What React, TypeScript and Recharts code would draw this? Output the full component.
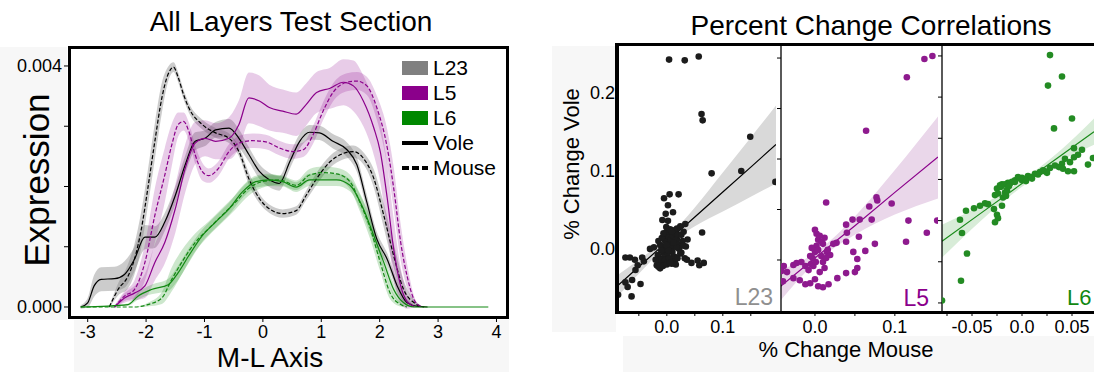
import React from 'react';
import { ComposedChart, Area, Line, Scatter, XAxis, YAxis, Legend } from 'recharts';

const FONT = '"Liberation Sans", Arial, Helvetica, sans-serif';

// [M-L position, expression, half width of the ribbon]
type Pt = [number, number, number];

const L23_VOLE: Pt[] = [
  [-3.12, 0, 0.00003], [-3.0, 0.00007, 0.00008], [-2.89, 0.00035, 0.00018], [-2.77, 0.00046, 0.0002],
  [-2.54, 0.00047, 0.0002], [-2.37, 0.00054, 0.00022], [-2.2, 0.00079, 0.0002], [-2.02, 0.00116, 0.0002],
  [-1.85, 0.00116, 0.00018], [-1.68, 0.00141, 0.00015], [-1.5, 0.00185, 0.00015], [-1.33, 0.00236, 0.00015],
  [-1.16, 0.00275, 0.00015], [-0.99, 0.0028, 0.00013], [-0.81, 0.00294, 0.00013], [-0.58, 0.00297, 0.00015],
  [-0.41, 0.0028, 0.00015], [-0.24, 0.00253, 0.00012], [-0.06, 0.00225, 0.00012], [0.11, 0.00211, 0.00012],
  [0.28, 0.00205, 0.00012], [0.46, 0.00241, 0.00012], [0.63, 0.00275, 0.00012], [0.8, 0.0029, 0.00012],
  [0.97, 0.00289, 0.00012], [1.2, 0.00275, 0.00012], [1.44, 0.00261, 0.00012], [1.61, 0.00236, 0.00012],
  [1.78, 0.00174, 0.00012], [1.95, 0.00113, 0.00012], [2.13, 0.00079, 0.0001], [2.3, 0.00035, 0.00008],
  [2.47, 0.00007, 0.00005], [2.65, 0.00001, 0.00002], [2.82, 0, 0],
];

const L23_MOUSE: Pt[] = [
  [-2.63, 0, 0.00002], [-2.48, 0.00029, 0.0001], [-2.31, 0.00051, 0.0002], [-2.2, 0.00079, 0.00025],
  [-2.08, 0.0013, 0.0003], [-1.97, 0.00197, 0.0003], [-1.85, 0.00275, 0.0003], [-1.73, 0.00347, 0.00025],
  [-1.62, 0.00387, 0.00012], [-1.53, 0.00398, 0.00008], [-1.45, 0.00381, 0.00008], [-1.36, 0.00353, 0.00008],
  [-1.27, 0.00331, 0.00008], [-1.04, 0.00303, 0.00008], [-0.81, 0.00289, 0.00008], [-0.58, 0.0028, 0.00008],
  [-0.41, 0.00258, 0.00008], [-0.24, 0.00213, 0.0001], [-0.06, 0.0018, 0.00008], [0.11, 0.00163, 0.00007],
  [0.34, 0.00155, 0.00007], [0.57, 0.0016, 0.00007], [0.74, 0.00185, 0.00008], [0.92, 0.00213, 0.0001],
  [1.15, 0.00241, 0.0001], [1.38, 0.00255, 0.0001], [1.55, 0.00258, 0.0001], [1.72, 0.00247, 0.0001],
  [1.9, 0.00213, 0.00015], [2.07, 0.00152, 0.0002], [2.24, 0.00085, 0.0002], [2.41, 0.00029, 0.00015],
  [2.59, 0.00007, 0.00005], [2.76, 0, 0],
];

const L5_VOLE: Pt[] = [
  [-2.54, 0, 0.00002], [-2.37, 0.00015, 0.00008], [-2.2, 0.00023, 0.00012], [-2.02, 0.00035, 0.0002],
  [-1.85, 0.00074, 0.0003], [-1.68, 0.00107, 0.00035], [-1.5, 0.00163, 0.0004], [-1.33, 0.0023, 0.0004],
  [-1.16, 0.00272, 0.00035], [-0.99, 0.0028, 0.0003], [-0.81, 0.00275, 0.0003], [-0.58, 0.0028, 0.00035],
  [-0.41, 0.00303, 0.0004], [-0.24, 0.00347, 0.00042], [-0.06, 0.00342, 0.00042], [0.11, 0.00331, 0.00038],
  [0.34, 0.00325, 0.00036], [0.57, 0.0032, 0.00036], [0.74, 0.00336, 0.00035], [0.92, 0.00356, 0.00034],
  [1.15, 0.00363, 0.00034], [1.38, 0.00373, 0.00038], [1.55, 0.00367, 0.00042], [1.72, 0.00342, 0.00042],
  [1.9, 0.00297, 0.00045], [2.01, 0.00258, 0.0005], [2.13, 0.0018, 0.00055], [2.24, 0.00096, 0.0005],
  [2.36, 0.00035, 0.0003], [2.47, 0.00009, 0.00012], [2.59, 0.00001, 0.00002],
];

const L5_MOUSE: Pt[] = [
  [-2.54, 0, 0.00002], [-2.37, 0.00018, 0.00008], [-2.2, 0.00029, 0.00015], [-2.02, 0.00074, 0.0003],
  [-1.85, 0.00152, 0.00045], [-1.68, 0.00219, 0.00045], [-1.56, 0.00269, 0.00035], [-1.45, 0.00303, 0.0002],
  [-1.36, 0.00308, 0.00015], [-1.27, 0.00292, 0.00015], [-1.16, 0.00253, 0.00015], [-1.04, 0.00225, 0.00015],
  [-0.93, 0.00218, 0.00012], [-0.76, 0.0023, 0.00012], [-0.58, 0.00258, 0.00012], [-0.41, 0.00272, 0.00012],
  [-0.18, 0.00276, 0.00012], [0.05, 0.00274, 0.00012], [0.28, 0.00264, 0.00012], [0.51, 0.00258, 0.00012],
  [0.69, 0.00261, 0.00012], [0.86, 0.00286, 0.00015], [1.03, 0.00325, 0.00015], [1.2, 0.00356, 0.00015],
  [1.44, 0.00373, 0.00015], [1.61, 0.00375, 0.00015], [1.78, 0.00367, 0.00015], [1.95, 0.00331, 0.0002],
  [2.13, 0.00264, 0.0003], [2.24, 0.00197, 0.00035], [2.36, 0.00107, 0.0003], [2.47, 0.00051, 0.0002],
  [2.59, 0.00012, 0.00006], [2.7, 0.00001, 0.00001],
];

const L6_VOLE: Pt[] = [
  [-3.12, 0, 0], [-2.31, 0.00004, 0.00002], [-2.14, 0.00018, 0.00006], [-1.91, 0.00029, 0.00008],
  [-1.62, 0.00037, 0.0001], [-1.45, 0.00057, 0.00012], [-1.27, 0.00085, 0.00012], [-1.04, 0.00118, 0.0001],
  [-0.81, 0.00141, 0.0001], [-0.58, 0.00163, 0.0001], [-0.35, 0.00191, 0.0001], [-0.12, 0.00208, 0.0001],
  [0.11, 0.00211, 0.0001], [0.34, 0.00208, 0.00008], [0.57, 0.00199, 0.00008], [0.8, 0.00211, 0.0001],
  [1.03, 0.00211, 0.0001], [1.26, 0.00211, 0.0001], [1.49, 0.00202, 0.0001], [1.72, 0.00163, 0.00012],
  [1.9, 0.00118, 0.00012], [2.07, 0.00074, 0.00012], [2.24, 0.00029, 0.0001], [2.41, 0.00007, 0.00005],
  [2.59, 0, 0], [3.86, 0, 0],
];

const L6_MOUSE: Pt[] = [
  [-3.12, 0, 0], [-2.2, 0, 0], [-1.97, 0.00004, 0.00003], [-1.73, 0.00015, 0.0001],
  [-1.56, 0.00046, 0.0002], [-1.39, 0.00074, 0.0002], [-1.16, 0.00107, 0.00015], [-0.93, 0.0013, 0.00012],
  [-0.7, 0.00152, 0.00012], [-0.47, 0.00174, 0.00012], [-0.24, 0.00197, 0.00012], [-0.01, 0.00208, 0.0001],
  [0.28, 0.00211, 0.00008], [0.57, 0.00202, 0.00008], [0.8, 0.00219, 0.0001], [1.03, 0.00223, 0.0001],
  [1.26, 0.00221, 0.0001], [1.49, 0.00208, 0.00012], [1.66, 0.00174, 0.00015], [1.84, 0.0013, 0.00018],
  [2.01, 0.00074, 0.00015], [2.18, 0.00023, 0.0001], [2.36, 0.00004, 0.00003], [2.47, 0, 0],
];

const ML_TICKS = [-3, -2, -1, 0, 1, 2, 3, 4];
const EXPR_TICKS = [0, 0.001, 0.002, 0.003, 0.004];
const EXPR_TICK_LABELS = ['0.000', '', '', '', '0.004'];
const LEGEND_LABELS = ['L23', 'L5', 'L6', 'Vole', 'Mouse'];

// percent change: [mouse, vole]
type XY = [number, number];

const L23_POINTS: XY[] = [
  [0.004, 0.243], [0.032, 0.242], [0.057, 0.247], [0.062, 0.173], [0.064, 0.165], [0.149, 0.144],
  [0.133, 0.1], [0.08, 0.097], [0.194, 0.086], [0.005, 0.07], [0.021, 0.07], [-0.005, 0.065],
  [0.002, 0.056], [-0.002, 0.045], [0.011, 0.047], [-0.008, 0.037], [0.002, 0.036], [0.024, 0.029],
  [0.033, 0.032], [0.018, 0.026], [0.063, 0.021], [-0.074, -0.011], [-0.066, -0.011], [-0.057, -0.014],
  [-0.044, -0.011], [-0.03, 0.0], [-0.023, 0.002], [-0.041, -0.016], [-0.052, -0.021], [-0.056, -0.027],
  [-0.074, -0.043], [-0.062, -0.04], [-0.07, -0.049], [-0.047, -0.045], [-0.063, -0.061], [-0.087, -0.059],
  [0.032, -0.012], [0.036, -0.014], [0.044, -0.018], [0.055, -0.015], [0.058, -0.021], [0.066, -0.018],
  [0.037, 0.012], [0.034, 0.003], [0.026, -0.005], [0.014, -0.01], [-0.018, -0.021], [-0.015, -0.023],
  [-0.012, -0.025], [-0.01, -0.018], [-0.008, -0.012], [-0.006, -0.005], [-0.004, 0.002], [-0.003, 0.01],
  [-0.002, 0.018], [0.0, 0.022], [0.002, 0.02], [0.004, 0.015], [0.006, 0.008], [0.008, 0.002],
  [0.01, -0.004], [0.012, -0.01], [0.014, -0.016], [0.016, -0.02], [0.001, -0.008], [-0.005, -0.016],
  [0.003, -0.002], [0.007, 0.012], [0.011, 0.017], [0.015, 0.02], [0.018, 0.012], [0.02, 0.006],
  [0.022, 0.0], [0.024, -0.006], [0.019, -0.012], [0.009, -0.019], [-0.001, 0.028], [0.006, 0.025],
  [0.013, 0.024], [0.02, 0.018], [-0.012, 0.005], [-0.015, 0.01], [-0.01, -0.002], [-0.016, -0.008],
  [0.028, 0.01], [0.03, 0.004], [-0.013, -0.02], [-0.011, -0.014], [-0.007, -0.022], [-0.003, -0.014],
  [0.0, -0.02], [0.004, -0.012], [0.006, -0.018], [-0.009, 0.014], [-0.006, 0.02], [0.009, 0.022],
  [0.017, 0.002], [0.012, 0.008], [-0.001, 0.005], [0.026, 0.018], [0.03, 0.022], [-0.02, -0.014],
];

const L5_POINTS: XY[] = [
  [0.137, 0.199], [0.147, 0.202], [0.115, 0.181], [0.064, 0.128], [0.014, 0.057], [0.077, 0.062],
  [0.078, 0.059], [0.068, 0.053], [0.096, 0.056], [0.117, 0.039], [0.14, 0.027], [0.114, 0.018],
  [0.075, 0.016], [0.056, 0.04], [0.047, 0.04], [0.071, 0.04], [0.039, 0.035], [0.04, 0.027],
  [0.055, 0.023], [0.039, 0.018], [0.063, 0.009], [0.048, 0.008], [0.053, 0.001], [0.053, -0.008],
  [0.05, -0.012], [0.039, -0.013], [0.028, -0.018], [0.017, -0.024], [0.01, -0.027], [0.004, -0.026],
  [0.0, -0.019], [-0.006, -0.023], [-0.012, -0.024], [-0.019, -0.02], [-0.027, -0.018], [-0.04, -0.021],
  [-0.039, -0.006], [-0.042, -0.011], [-0.035, -0.012], [-0.027, -0.005], [-0.023, -0.003], [-0.017, -0.002],
  [-0.012, -0.006], [0.027, 0.017], [0.023, 0.016], [0.015, 0.008], [0.019, 0.005], [0.002, 0.026],
  [-0.008, -0.01], [-0.005, -0.004], [-0.003, 0.002], [0.0, 0.008], [0.002, 0.014], [0.004, 0.02],
  [0.006, 0.024], [0.0, 0.03], [0.004, 0.01], [0.008, 0.004], [0.01, -0.002], [0.012, -0.008],
  [0.006, -0.012], [-0.002, -0.006], [0.014, 0.002], [0.016, 0.01], [0.01, 0.016], [-0.006, 0.004],
  [0.001, -0.002], [0.008, 0.018], [-0.004, 0.012], [0.012, 0.022], [0.153, 0.039],
];

const L6_POINTS: XY[] = [
  [0.028, 0.201], [0.04, 0.175], [0.026, 0.164], [0.05, 0.124], [0.032, 0.112], [0.06, 0.086],
  [0.052, 0.088], [0.056, 0.08], [0.071, 0.076], [0.066, 0.068], [0.052, 0.077], [0.048, 0.071],
  [0.043, 0.075], [0.04, 0.069], [0.037, 0.065], [0.033, 0.067], [0.041, 0.063], [0.046, 0.06],
  [0.052, 0.06], [0.028, 0.064], [-0.02, 0.044], [-0.014, 0.046], [-0.007, 0.049], [0.0, 0.052],
  [0.006, 0.054], [0.013, 0.057], [0.018, 0.059], [0.021, 0.061], [-0.004, 0.053], [-0.007, 0.047],
  [0.0, 0.049], [-0.022, 0.043], [-0.017, 0.044], [-0.012, 0.045], [-0.025, 0.039], [-0.021, 0.041],
  [-0.027, 0.031], [-0.024, 0.033], [-0.017, 0.034], [-0.015, 0.037], [-0.019, 0.028], [-0.016, 0.03],
  [-0.037, 0.021], [-0.042, 0.018], [-0.048, 0.015], [-0.056, 0.012], [-0.062, 0.001], [-0.034, 0.02],
  [-0.028, 0.014], [-0.02, 0.018], [-0.025, 0.007], [-0.024, 0.003], [-0.027, -0.002], [-0.06, -0.015],
  [-0.055, -0.04], [-0.061, -0.073], [-0.08, -0.097], [0.003, 0.05], [0.009, 0.053], [0.016, 0.056],
  [0.023, 0.06], [0.025, 0.058], [-0.002, 0.051], [0.004, 0.048], [0.01, 0.051], [-0.01, 0.047],
  [-0.013, 0.042],
];

// linear fit: [mouse, fitted vole, lower, upper]
type Fit = [number, number, number, number];

const L23_FIT: Fit[] = [
  [-0.089, -0.048, -0.062, -0.034], [-0.05, -0.023, -0.032, -0.014], [0, 0.009, 0.004, 0.014],
  [0.05, 0.041, 0.029, 0.053], [0.1, 0.073, 0.048, 0.098], [0.15, 0.105, 0.067, 0.143],
  [0.195, 0.134, 0.084, 0.184],
];
const L5_FIT: Fit[] = [
  [-0.043, -0.026, -0.04, -0.01], [0, 0.002, -0.003, 0.007], [0.05, 0.034, 0.025, 0.043],
  [0.1, 0.067, 0.045, 0.089], [0.154, 0.102, 0.061, 0.142],
];
const L6_FIT: Fit[] = [
  [-0.08, -0.025, -0.045, -0.005], [-0.04, 0.01, 0.001, 0.019], [0, 0.045, 0.041, 0.049],
  [0.04, 0.08, 0.073, 0.087], [0.072, 0.108, 0.092, 0.124],
];

const L23_X_TICKS = [-0.05, 0, 0.05, 0.1, 0.15];
const L23_X_LABELS = ['', '0.0', '', '0.1', ''];
const L5_X_TICKS = [0, 0.05, 0.1];
const L5_X_LABELS = ['0.0', '', '0.1'];
const L6_X_TICKS = [-0.075, -0.05, -0.025, 0, 0.025, 0.05];
const L6_X_LABELS = ['', '-0.05', '', '0.0', '', '0.05'];
const VOLE_TICKS = [0, 0.1, 0.2];
const VOLE_LABELS = ['0.0', '0.1', '0.2'];
const L5_Y_TICKS = [0, 0.05, 0.1, 0.15, 0.2];
const L6_Y_TICKS = [-0.1, -0.05, 0, 0.05, 0.1, 0.15, 0.2];

const labelFor = (ticks: number[], labels: string[]) => (v: number) => {
  const i = ticks.findIndex((t) => Math.abs(t - v) < 1e-9);
  return i >= 0 ? labels[i] : '';
};

const ribbon = (pts: Pt[]) => pts.map(([x, y, h]) => ({ x, y, band: [y - h, y + h] }));
const fitRows = (f: Fit[]) => f.map(([x, y, lo, hi]) => ({ x, y, band: [lo, hi] }));
const pointRows = (p: XY[]) => p.map(([x, y]) => ({ x, y }));

const tickStyle = { fill: '#000', fontSize: 18, fontFamily: FONT };

// tick text only where the reference shows one
const makeTick = (ticks: number[], labels: string[], anchor: 'middle' | 'end') => (p: any) => {
  const txt = labelFor(ticks, labels)(p.payload.value);
  if (!txt) return <g />;
  return (
    <text x={p.x} y={p.y} dy={anchor === 'middle' ? '0.71em' : '0.355em'} textAnchor={anchor}
      fill="#000" fontSize={18} fontFamily={FONT}>
      {txt}
    </text>
  );
};

const Txt = ({ x, y, size, color = '#000', rotate = false, anchor = 'middle', children }: any) => {
  const tx = anchor === 'end' ? '-100%' : anchor === 'start' ? '0' : '-50%';
  return (
    <div
      style={{
        position: 'absolute', left: x, top: y, fontSize: size, fontFamily: FONT, color,
        lineHeight: 1, whiteSpace: 'nowrap',
        transform: `translate(${tx}, -50%)${rotate ? ' rotate(-90deg)' : ''}`,
      }}
    >
      {children}
    </div>
  );
};

const Box = ({ x, y, w, h, style }: any) => (
  <div style={{ position: 'absolute', left: x, top: y, width: w, height: h, boxSizing: 'border-box', ...style }} />
);

const renderLegend = () => (
  <div style={{ fontFamily: FONT }}>
    {LEGEND_LABELS.map((lab, i) => (
      <div key={lab} style={{ display: 'flex', alignItems: 'center', height: 25 }}>
        <svg width={28} height={16}>
          {i === 0 && <rect x={1} y={1} width={26} height={14} fill="#808080" />}
          {i === 1 && <rect x={1} y={1} width={26} height={14} fill="#8B008B" />}
          {i === 2 && <rect x={1} y={1} width={26} height={14} fill="#008800" />}
          {i === 3 && <line x1={1} x2={27} y1={8} y2={8} stroke="#000" strokeWidth={4} />}
          {i === 4 && <line x1={1} x2={27} y1={8} y2={8} stroke="#000" strokeWidth={4} strokeDasharray="7 3" />}
        </svg>
        <span style={{ marginLeft: 4, fontSize: 21, color: '#000' }}>{lab}</span>
      </div>
    ))}
  </div>
);

const ProfileChart = () => {
  const bands = [
    { pts: L23_VOLE, fill: '#808080', op: 0.4 },
    { pts: L23_MOUSE, fill: '#808080', op: 0.4 },
    { pts: L5_VOLE, fill: '#8B008B', op: 0.2 },
    { pts: L5_MOUSE, fill: '#8B008B', op: 0.2 },
    { pts: L6_VOLE, fill: '#008800', op: 0.2 },
    { pts: L6_MOUSE, fill: '#008800', op: 0.2 },
  ];
  const lines = [
    { pts: L23_VOLE, stroke: '#000', dash: undefined },
    { pts: L23_MOUSE, stroke: '#000', dash: '4 2' },
    { pts: L5_VOLE, stroke: '#8B008B', dash: undefined },
    { pts: L5_MOUSE, stroke: '#8B008B', dash: '4 2' },
    { pts: L6_VOLE, stroke: '#118811', dash: undefined },
    { pts: L6_MOUSE, stroke: '#118811', dash: '4 2' },
  ];
  return (
    <ComposedChart width={520} height={372} margin={{ top: 47, right: 13, bottom: 25, left: 0 }}>
      <XAxis
        type="number" dataKey="x" domain={[-3.32, 4.18]} ticks={ML_TICKS} interval={0}
        allowDataOverflow axisLine={false} tickSize={5} tickMargin={3} height={30}
        tickLine={{ stroke: '#000' }} tick={tickStyle}
      />
      <YAxis
        type="number" domain={[-0.000166, 0.004315]} ticks={EXPR_TICKS} interval={0}
        allowDataOverflow width={69} axisLine={false} tickSize={5} tickMargin={2}
        tickLine={{ stroke: '#000' }} tick={makeTick(EXPR_TICKS, EXPR_TICK_LABELS, 'end')}
      />
      {bands.map((b, i) => (
        <Area
          key={'b' + i} data={ribbon(b.pts)} dataKey="band" type="monotone" stroke="none"
          fill={b.fill} fillOpacity={b.op} isAnimationActive={false} activeDot={false}
        />
      ))}
      {lines.map((l, i) => (
        <Line
          key={'l' + i} data={ribbon(l.pts)} dataKey="y" type="monotone" stroke={l.stroke}
          strokeWidth={1.2} strokeDasharray={l.dash} dot={false} activeDot={false} isAnimationActive={false}
        />
      ))}
      <Legend
        content={renderLegend} layout="vertical" align="center" verticalAlign="middle"
        wrapperStyle={{ left: 401, top: 55, width: 110 }}
      />
    </ComposedChart>
  );
};

const Panel = ({
  width, yAxisWidth, marginRight, xDomain, xTicks, xLabels, yDomain, yTicks, yLabels,
  points, fit, pointColor, lineColor, bandColor, rightLine,
}: any) => {
  const dot = (p: any) => <circle cx={p.cx} cy={p.cy} r={3.3} fill={pointColor} />;
  return (
    <ComposedChart width={width} height={372} margin={{ top: 44, right: marginRight, bottom: 30, left: 0 }}>
      <XAxis
        type="number" dataKey="x" domain={xDomain} ticks={xTicks} interval={0} allowDataOverflow
        axisLine={false} tickSize={4} tickMargin={4} height={30} tickLine={{ stroke: '#000' }}
        tick={makeTick(xTicks, xLabels, 'middle')}
      />
      <YAxis
        type="number" dataKey="y" domain={yDomain} ticks={yTicks} interval={0} allowDataOverflow
        width={yAxisWidth}
        axisLine={yLabels ? false : { stroke: '#000', strokeWidth: 1.3 }}
        tickSize={yLabels ? 0 : 4} tickMargin={2} tickLine={yLabels ? false : { stroke: '#000' }}
        tick={makeTick(yTicks, yLabels || [], 'end')}
      />
      {rightLine && (
        <YAxis
          yAxisId="r" orientation="right" type="number" domain={[0, 1]} width={0} tick={false}
          tickLine={false} axisLine={{ stroke: '#000', strokeWidth: 1.3 }}
        />
      )}
      <Area
        data={fitRows(fit)} dataKey="band" type="monotone" stroke="none" fill={bandColor}
        fillOpacity={1} isAnimationActive={false} activeDot={false}
      />
      <Scatter data={pointRows(points)} fill={pointColor} shape={dot} isAnimationActive={false} />
      <Line
        data={fitRows(fit)} dataKey="y" type="linear" stroke={lineColor} strokeWidth={1.2}
        dot={false} activeDot={false} isAnimationActive={false}
      />
    </ComposedChart>
  );
};

export default function App() {
  const bg = '#f7f7f7';
  return (
    <div
      style={{
        position: 'absolute', left: 0, top: 0, width: 1094, height: 372, overflow: 'hidden',
        background: '#fff', fontFamily: FONT,
      }}
    >
      <Box x={0} y={47} w={67} h={273} style={{ background: bg }} />
      <Box x={74} y={320} w={435} h={52} style={{ background: bg }} />
      <Box x={552} y={46} w={64} h={286} style={{ background: bg }} />
      <Box x={623} y={336} w={471} h={36} style={{ background: bg }} />

      <div style={{ position: 'absolute', left: 0, top: 0 }}>
        <ProfileChart />
      </div>
      <div style={{ position: 'absolute', left: 540, top: 0 }}>
        <Panel
          width={237} yAxisWidth={77} marginRight={1} xDomain={[-0.089, 0.195]} xTicks={L23_X_TICKS}
          xLabels={L23_X_LABELS} yDomain={[-0.081, 0.263]} yTicks={VOLE_TICKS} yLabels={VOLE_LABELS}
          points={L23_POINTS} fit={L23_FIT} pointColor="#1c1c1c" lineColor="#000" bandColor="#d9d9d9" rightLine
        />
      </div>
      <div style={{ position: 'absolute', left: 777, top: 0 }}>
        <Panel
          width={162} yAxisWidth={4} marginRight={1} xDomain={[-0.0425, 0.154]} xTicks={L5_X_TICKS}
          xLabels={L5_X_LABELS} yDomain={[-0.0515, 0.2139]} yTicks={L5_Y_TICKS}
          points={L5_POINTS} fit={L5_FIT} pointColor="#8e1a8e" lineColor="#8B008B" bandColor="#ead7ea" rightLine
        />
      </div>
      <div style={{ position: 'absolute', left: 938, top: 0 }}>
        <Panel
          width={156} yAxisWidth={4} marginRight={0} xDomain={[-0.08, 0.072]} xTicks={L6_X_TICKS}
          xLabels={L6_X_LABELS} yDomain={[-0.111, 0.2145]} yTicks={L6_Y_TICKS}
          points={L6_POINTS} fit={L6_FIT} pointColor="#238b23" lineColor="#1a8a1a" bandColor="#d8ecd8"
          rightLine={false}
        />
      </div>

      <Box x={67.5} y={45.5} w={441} h={273} style={{ border: '3px solid #000' }} />
      <Box x={615} y={42.5} w={479} h={3} style={{ background: '#000' }} />
      <Box x={615} y={310.5} w={479} h={3} style={{ background: '#000' }} />
      <Box x={615} y={42.5} w={3.5} h={271} style={{ background: '#000' }} />

      <Txt x={291} y={22} size={28}>All Layers Test Section</Txt>
      <Txt x={36} y={180} size={35} rotate>Expression</Txt>
      <Txt x={270} y={358} size={28}>M-L Axis</Txt>

      <Txt x={871} y={26} size={28}>Percent Change Correlations</Txt>
      <Txt x={572} y={164} size={22} rotate>% Change Vole</Txt>
      <Txt x={846} y={350} size={22}>% Change Mouse</Txt>

      <Txt x={773} y={297} size={23} color="#8f8f8f" anchor="end">L23</Txt>
      <Txt x={929} y={298} size={23} color="#8B008B" anchor="end">L5</Txt>
      <Txt x={1067} y={298} size={22} color="#118811" anchor="start">L6</Txt>
    </div>
  );
}
